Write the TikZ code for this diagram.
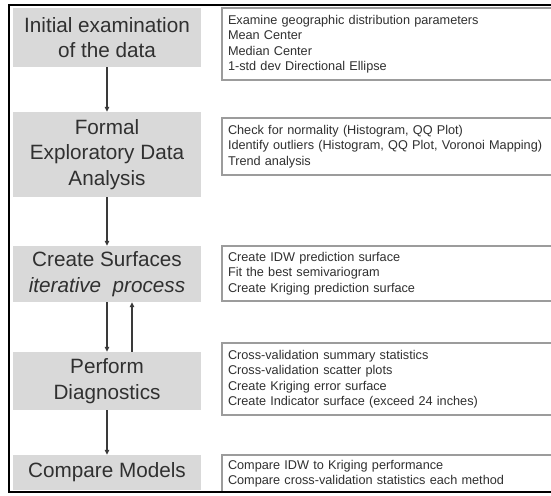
\documentclass[tikz,border=0pt]{standalone}
\usepackage{fontspec}
\setmainfont{Liberation Sans}
\usetikzlibrary{arrows.meta}
\definecolor{boxgray}{HTML}{D9D9D9}
\definecolor{bordergray}{HTML}{9C9C9C}
\definecolor{txt}{HTML}{303030}
\definecolor{arr}{HTML}{3A3A3A}
\begin{document}
\begin{tikzpicture}[x=1pt,y=-1pt,
  stagebox/.style={fill=boxgray, draw=none, minimum width=188pt, inner sep=0pt, align=center,
     text=txt, font=\fontsize{20.7}{25.5}\selectfont},
  notebox/.style={fill=white, draw=bordergray, line width=1.1pt, minimum width=338pt, inner xsep=6pt, inner ysep=0pt,
     text width=326pt, align=left, text=txt, font=\fontsize{12.7}{15.5}\selectfont},
  flow/.style={draw=arr, line width=1.3pt, -{Triangle[length=5pt,width=4.5pt]}}]
\useasboundingbox (0,0) rectangle (551,495);
\fill[white] (0,0) rectangle (551,495);
\clip (0,0) rectangle (551,495);
% stage boxes
\node[stagebox, minimum height=59pt] (s1) at (107,37.5) {Initial examination\\of the data};
\node[stagebox, minimum height=85pt] (s2) at (107,154.5) {Formal\\Exploratory Data\\Analysis};
\node[stagebox, minimum height=56pt] (s3) at (107,274) {Create Surfaces\\\textit{iterative\ \ process}};
\node[stagebox, minimum height=58pt] (s4) at (107,381) {Perform\\Diagnostics};
\node[stagebox, minimum height=35pt] (s5) at (107,472.5) {Compare Models};
% note boxes
\node[notebox, minimum height=72pt] (n1) at (391,44) {Examine geographic distribution parameters\\Mean Center\\Median Center\\1-std dev Directional Ellipse};
\node[notebox, minimum height=57pt] (n2) at (391,146.5) {Check for normality (Histogram, QQ Plot)\\Identify outliers (Histogram, QQ Plot, Voronoi Mapping)\\Trend analysis};
\node[notebox, minimum height=55pt] (n3) at (391,273.5) {Create IDW prediction surface\\Fit the best semivariogram\\Create Kriging prediction surface};
\node[notebox, minimum height=72pt] (n4) at (391,379) {Cross-validation summary statistics\\Cross-validation scatter plots\\Create Kriging error surface\\Create Indicator surface (exceed 24 inches)};
\node[notebox, minimum height=37pt] (n5) at (391,473.5) {Compare IDW to Kriging performance\\Compare cross-validation statistics each method};
% connectors
\draw[flow] (s1.south) -- (s2.north);
\draw[flow] (s2.south) -- (s3.north);
\draw[flow] (s3.south) -- (s4.north);
\draw[flow] ([xshift=25pt]s4.north) -- ([xshift=25pt]s3.south);
\draw[flow] (s4.south) -- (s5.north);
% outer frame
\draw[black, line width=2.6pt] (9,5) rectangle (570,492);
\end{tikzpicture}
\end{document}
